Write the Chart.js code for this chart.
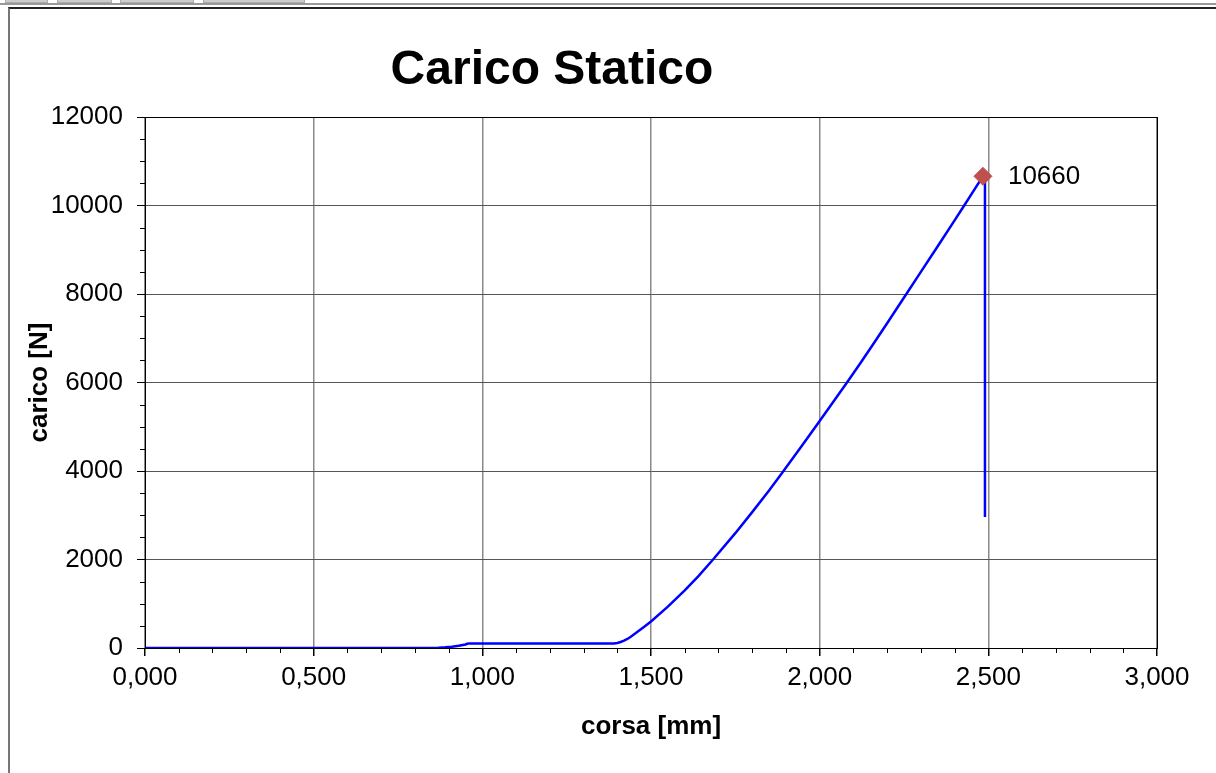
<!DOCTYPE html>
<html>
<head>
<meta charset="utf-8">
<script src="https://cdn.jsdelivr.net/npm/chart.js@4.4.1/dist/chart.umd.min.js"></script>
<style>
    body { margin: 0; background: #fff; overflow: hidden; }
    #strip { position: absolute; left: 0; top: 3px; width: 1216px; height: 2px; background: #999; }
    .tab { position: absolute; top: 0; height: 3px; background: #ccc; border: 1px solid #aaa; border-top: none; box-sizing: border-box; }
    #frame { position: absolute; left: 8px; top: 7px; width: 1300px; height: 900px; border-left: 2px solid #777; border-top: 2px solid #222; box-sizing: border-box; }
    #grafico { position: absolute; left: 0; top: 0; }
</style>
</head>
<body>
<div id="strip"></div>
<div class="tab" style="left:5px;width:43px"></div>
<div class="tab" style="left:57px;width:55px"></div>
<div class="tab" style="left:120px;width:74px"></div>
<div class="tab" style="left:203px;width:102px"></div>
<div id="frame"></div>
<canvas id="grafico" width="1216" height="773"></canvas>
<script>
// corsa [mm] / carico [N]
const corsa = [0.000, 0.500, 0.850, 0.870, 0.890, 0.910, 0.930, 0.950, 0.955, 0.960, 1.200, 1.380,
    1.390, 1.400, 1.410, 1.420, 1.430, 1.440, 1.460, 1.480, 1.500, 1.550, 1.600, 1.640, 1.684, 1.750,
    1.800, 1.850, 1.889, 1.950, 2.000, 2.040, 2.081, 2.120, 2.160, 2.200, 2.256, 2.300, 2.350, 2.400,
    2.428, 2.460, 2.484, 2.490, 2.490];
const carico = [0, 0, 0, 5, 15, 30, 50, 80, 95, 100, 100, 100,
    103, 115, 135, 165, 205, 255, 365, 480, 600, 935, 1300, 1620, 2000, 2595,
    3070, 3560, 3960, 4600, 5130, 5560, 6000, 6430, 6880, 7340, 7990, 8500, 9080, 9665,
    9995, 10375, 10660, 10600, 2960];

const piccoCorsa = [2.484];
const piccoCarico = [10660];

const xTicks = [0, 0.5, 1, 1.5, 2, 2.5, 3];
const yTicks = [0, 2000, 4000, 6000, 8000, 10000, 12000];

const FONT = 'Arial, "Liberation Sans", sans-serif';

const puntiCurva = corsa.map((c, i) => ({ x: c, y: carico[i] }));
const puntiPicco = piccoCorsa.map((c, i) => ({ x: c, y: piccoCarico[i] }));

// titolo, bordo area grafico, tacche minori ed etichetta del picco
const extraPlugin = {
    id: 'extra',
    afterDraw(chart) {
        const ctx = chart.ctx;
        const area = chart.chartArea;
        const xs = chart.scales.x;
        const ys = chart.scales.y;
        ctx.save();

        ctx.strokeStyle = '#000';
        ctx.lineWidth = 1;
        ctx.strokeRect(area.left + 0.5, area.top + 0.5, area.right - area.left, area.bottom - area.top);

        ctx.beginPath();
        for (let i = 1; i < 30; i++) {
            if (i % 5 === 0) continue;
            const px = Math.round(xs.getPixelForValue(i / 10)) + 0.5;
            ctx.moveTo(px, area.bottom);
            ctx.lineTo(px, area.bottom + 5);
        }
        for (let i = 1; i < 24; i++) {
            if (i % 4 === 0) continue;
            const py = Math.round(ys.getPixelForValue(i * 500)) + 0.5;
            ctx.moveTo(area.left, py);
            ctx.lineTo(area.left - 5, py);
        }
        ctx.stroke();

        ctx.fillStyle = '#000';
        ctx.font = 'bold 48px ' + FONT;
        ctx.textAlign = 'center';
        ctx.textBaseline = 'alphabetic';
        ctx.fillText('Carico Statico', 552, 84);

        const pt = chart.getDatasetMeta(1).data[0];
        ctx.font = '26px ' + FONT;
        ctx.textAlign = 'left';
        ctx.textBaseline = 'middle';
        ctx.fillText(String(piccoCarico[0]), pt.x + 25, pt.y + 1);
        ctx.restore();
    }
};

new Chart(document.getElementById('grafico').getContext('2d'), {
    type: 'scatter',
    data: {
        datasets: [{
            label: 'carico',
            data: puntiCurva,
            showLine: true,
            borderColor: '#0000FF',
            borderWidth: 2.5,
            pointRadius: 0,
            tension: 0,
            order: 2
        }, {
            label: 'picco',
            data: puntiPicco,
            pointStyle: 'rectRot',
            pointRadius: 9,
            backgroundColor: '#C0504D',
            borderColor: '#C0504D',
            order: 1
        }]
    },
    options: {
        responsive: false,
        animation: false,
        layout: { padding: { left: 0, right: 59, top: 117, bottom: 0 } },
        plugins: {
            legend: { display: false },
            tooltip: { enabled: false }
        },
        scales: {
            x: {
                type: 'linear',
                min: 0,
                max: 3,
                afterBuildTicks: (scale) => { scale.ticks = xTicks.map(v => ({ value: v })); },
                afterFit: (scale) => { scale.height = 125; },
                ticks: {
                    color: '#000',
                    font: { family: FONT, size: 26 },
                    padding: 6,
                    maxRotation: 0,
                    callback: (v) => v.toFixed(3).replace('.', ',')
                },
                grid: { color: '#8a8a8a', lineWidth: 1.5, tickColor: '#000', tickLength: 8 },
                border: { color: '#000', width: 1 },
                title: {
                    display: true,
                    text: 'corsa [mm]',
                    color: '#000',
                    font: { family: FONT, size: 26, weight: 'bold' },
                    padding: { top: 0, bottom: 31 }
                }
            },
            y: {
                min: 0,
                max: 12000,
                afterBuildTicks: (scale) => { scale.ticks = yTicks.map(v => ({ value: v })); },
                afterFit: (scale) => { scale.width = 145; },
                ticks: {
                    color: '#000',
                    font: { family: FONT, size: 26 },
                    padding: 14,
                    callback: (v) => String(v)
                },
                grid: { color: '#555', lineWidth: 1, tickColor: '#000', tickLength: 8 },
                border: { color: '#000', width: 1 },
                title: {
                    display: true,
                    text: 'carico [N]',
                    color: '#000',
                    font: { family: FONT, size: 26, weight: 'bold' },
                    padding: { top: 24, bottom: 0 }
                }
            }
        }
    },
    plugins: [extraPlugin]
});
</script>
</body>
</html>
